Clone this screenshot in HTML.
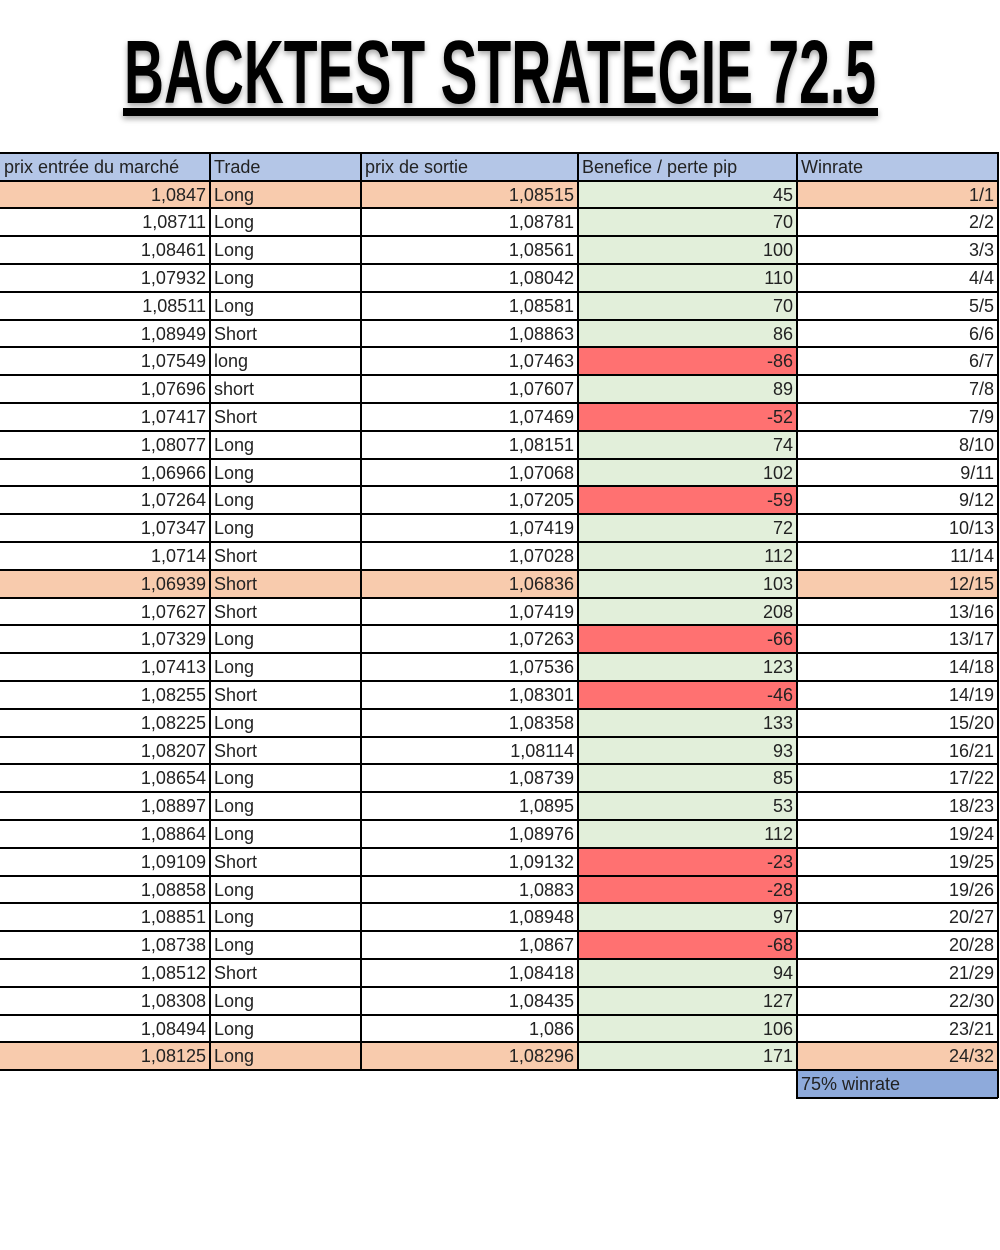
<!DOCTYPE html>
<html><head><meta charset="utf-8"><style>
body{margin:0;width:1000px;height:1250px;background:#fff;position:relative;overflow:hidden;font-family:"Liberation Sans",sans-serif}
.c{position:absolute;box-sizing:border-box;font-size:18px;color:#222;padding:2px 4px 0 4px;white-space:nowrap;overflow:hidden}
.r{text-align:right}
.l{position:absolute;background:#000}
</style></head><body>
<svg width="1000" height="130" style="position:absolute;left:0;top:0">
<defs><filter id="sh" x="-5%" y="-20%" width="110%" height="140%"><feDropShadow dx="0" dy="3" stdDeviation="3" flood-opacity="0.35"/></filter></defs>
<g filter="url(#sh)">
<text x="124" y="103" textLength="752" lengthAdjust="spacingAndGlyphs" font-family="Liberation Sans Narrow, Liberation Sans, sans-serif" font-weight="bold" font-size="90">BACKTEST STRATEGIE 72.5</text>
<rect x="123" y="108" width="755" height="8" fill="#000"/>
</g></svg>
<div id="tbl"></div>
<script>
const entry=["1,0847","1,08711","1,08461","1,07932","1,08511","1,08949","1,07549","1,07696","1,07417","1,08077","1,06966","1,07264","1,07347","1,0714","1,06939","1,07627","1,07329","1,07413","1,08255","1,08225","1,08207","1,08654","1,08897","1,08864","1,09109","1,08858","1,08851","1,08738","1,08512","1,08308","1,08494","1,08125"];
const trade=["Long","Long","Long","Long","Long","Short","long","short","Short","Long","Long","Long","Long","Short","Short","Short","Long","Long","Short","Long","Short","Long","Long","Long","Short","Long","Long","Long","Short","Long","Long","Long"];
const exitP=["1,08515","1,08781","1,08561","1,08042","1,08581","1,08863","1,07463","1,07607","1,07469","1,08151","1,07068","1,07205","1,07419","1,07028","1,06836","1,07419","1,07263","1,07536","1,08301","1,08358","1,08114","1,08739","1,0895","1,08976","1,09132","1,0883","1,08948","1,0867","1,08418","1,08435","1,086","1,08296"];
const pips=[45,70,100,110,70,86,-86,89,-52,74,102,-59,72,112,103,208,-66,123,-46,133,93,85,53,112,-23,-28,97,-68,94,127,106,171];
const winrate=["1/1","2/2","3/3","4/4","5/5","6/6","6/7","7/8","7/9","8/10","9/11","9/12","10/13","11/14","12/15","13/16","13/17","14/18","14/19","15/20","16/21","17/22","18/23","19/24","19/25","19/26","20/27","20/28","21/29","22/30","23/21","24/32"];
const highlight=[0,14,31];
const headers=["prix entrée du marché","Trade","prix de sortie","Benefice / perte pip","Winrate"];
const xs=[0,210,361,578,797,998];
const top0=153,hh=27.5,rh=27.8;
const T=document.getElementById('tbl');
function cell(x0,x1,y,h,txt,bg,right,name){
  const d=document.createElement('div');d.className='c'+(right?' r':'');
  
  
  d.style.left=x0+'px';d.style.width=(x1-x0)+'px';d.style.top=y+'px';d.style.height=h+'px';d.style.lineHeight=(h-2)+'px';
  d.style.background=bg;d.textContent=txt;T.appendChild(d);
}
function line(x,y,w,h){const d=document.createElement('div');d.className='l';
  
  
  d.style.left=x+'px';d.style.top=y+'px';d.style.width=w+'px';d.style.height=h+'px';T.appendChild(d);}
headers.forEach((h,i)=>cell(xs[i],xs[i+1],top0,hh,h,'#b4c6e7',false,'header-'+i));
const y0=top0+hh;
for(let i=0;i<entry.length;i++){
  const y=y0+i*rh, hl=highlight.includes(i), bg=hl?'#f8cbad':'#fff';
  cell(xs[0],xs[1],y,rh,entry[i],bg,true,'entry-price');
  cell(xs[1],xs[2],y,rh,trade[i],bg,false,'trade-type');
  cell(xs[2],xs[3],y,rh,exitP[i],bg,true,'exit-price');
  cell(xs[3],xs[4],y,rh,String(pips[i]),pips[i]<0?'#ff7171':'#e2efda',true,'pips');
  cell(xs[4],xs[5],y,rh,winrate[i],bg,true,'winrate');
}
const yEnd=y0+entry.length*rh;
cell(xs[4],xs[5],yEnd,27,'75% winrate','#8eaadb',false,'winrate-summary');
for(let i=0;i<=entry.length+1;i++){const y=i==0?top0:y0+(i-1)*rh;line(0,y-1,xs[5]+1,2);}
for(let i=1;i<xs.length;i++)line(xs[i]-1,top0-1,2,yEnd-top0+2);
line(xs[4]-1,yEnd,2,28);line(xs[5]-1,yEnd,2,28);line(xs[4]-1,yEnd+27,xs[5]-xs[4]+1,2);
</script>
</body></html>
